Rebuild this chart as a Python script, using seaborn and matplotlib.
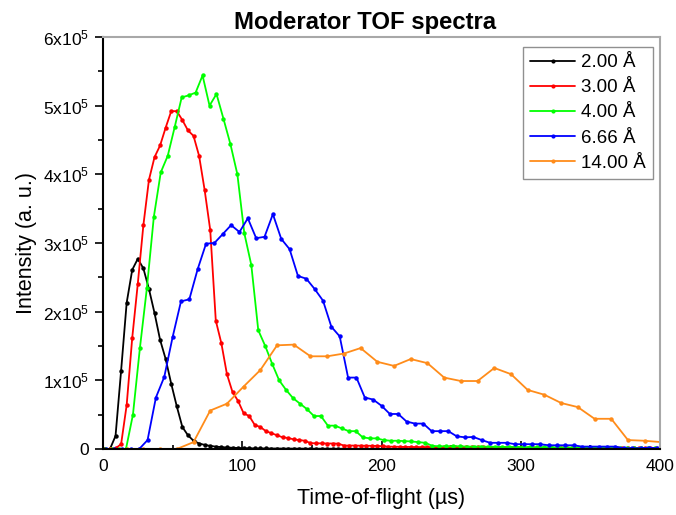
import numpy as np
import pandas as pd
import matplotlib
matplotlib.use("Agg")
import matplotlib.pyplot as plt
import seaborn as sns
from matplotlib.ticker import FuncFormatter, MultipleLocator

# ---- data (intensity in units of 1e5) ----
labels = ["2.00 Å", "3.00 Å", "4.00 Å", "6.66 Å", "14.00 Å"]
colors = ["#000000", "#ff0000", "#00ff00", "#0000ff", "#ff8c1a"]

# time-of-flight bin centres (µs)
t_2A = np.arange(1, 400, 4)
t_3A = np.arange(1, 400, 4)
t_4A = np.arange(1.5, 400, 5)
t_666A = np.arange(2, 400, 6)
t_14A = np.arange(5, 410, 12)

i_2A = [0.0, 0.0, 0.19, 1.14, 2.13, 2.61, 2.77, 2.63, 2.33, 1.98,
        1.59, 1.31, 0.95, 0.62, 0.32, 0.20, 0.12, 0.08, 0.06, 0.045,
        0.035, 0.028, 0.022, 0.018, 0.015, 0.012, 0.010, 0.009, 0.008, 0.008,
        0.007, 0.007, 0.006, 0.006, 0.005, 0.005, 0.005, 0.004, 0.004, 0.004,
        0.004, 0.004, 0.003, 0.003, 0.003, 0.003, 0.003, 0.003, 0.003, 0.003,
        0.003, 0.003, 0.002, 0.002, 0.002, 0.002, 0.002, 0.002, 0.002, 0.002,
        0.002, 0.002, 0.002, 0.002, 0.002, 0.002, 0.002, 0.002, 0.002, 0.002,
        0.002, 0.002, 0.002, 0.002, 0.002, 0.002, 0.002, 0.002, 0.002, 0.002,
        0.002, 0.002, 0.002, 0.002, 0.002, 0.002, 0.002, 0.002, 0.002, 0.002,
        0.002, 0.002, 0.002, 0.002, 0.002, 0.002, 0.002, 0.002, 0.002, 0.002]

i_3A = [0.0, 0.0, 0.01, 0.07, 0.64, 1.62, 2.41, 3.26, 3.92, 4.25,
        4.42, 4.68, 4.92, 4.92, 4.79, 4.64, 4.56, 4.27, 3.77, 3.19,
        1.87, 1.54, 1.09, 0.83, 0.70, 0.52, 0.48, 0.35, 0.32, 0.26,
        0.23, 0.20, 0.17, 0.16, 0.14, 0.13, 0.12, 0.085, 0.083, 0.082,
        0.080, 0.080, 0.078, 0.050, 0.050, 0.050, 0.048, 0.048, 0.046, 0.045,
        0.040, 0.035, 0.033, 0.032, 0.030, 0.030, 0.028, 0.028, 0.027, 0.026,
        0.025, 0.025, 0.024, 0.024, 0.023, 0.023, 0.022, 0.022, 0.022, 0.021,
        0.021, 0.020, 0.020, 0.020, 0.020, 0.019, 0.019, 0.019, 0.018, 0.018,
        0.018, 0.018, 0.017, 0.017, 0.017, 0.017, 0.016, 0.016, 0.016, 0.016,
        0.015, 0.015, 0.015, 0.015, 0.015, 0.014, 0.014, 0.014, 0.014, 0.014]

i_4A = [0.0, 0.0, 0.0, 0.0, 0.50, 1.47, 2.34, 3.38, 4.03, 4.27,
        4.69, 5.12, 5.15, 5.19, 5.44, 5.00, 5.17, 4.81, 4.44, 4.00,
        3.14, 2.68, 1.73, 1.50, 1.24, 1.00, 0.86, 0.74, 0.66, 0.58,
        0.48, 0.48, 0.34, 0.34, 0.30, 0.26, 0.26, 0.17, 0.155, 0.155,
        0.13, 0.12, 0.12, 0.115, 0.11, 0.10, 0.09, 0.045, 0.040, 0.040,
        0.040, 0.040, 0.035, 0.035, 0.035, 0.033, 0.032, 0.030, 0.030, 0.030,
        0.028, 0.027, 0.025, 0.025, 0.024, 0.022, 0.022, 0.020, 0.020, 0.018,
        0.017, 0.016, 0.015, 0.014, 0.013, 0.012, 0.012, 0.011, 0.010, 0.010]

i_666A = [0.0, 0.0, 0.0, 0.0, 0.0, 0.13, 0.75, 1.05, 1.63, 2.15,
          2.18, 2.62, 2.99, 3.00, 3.13, 3.26, 3.16, 3.36, 3.07, 3.09,
          3.42, 3.06, 2.91, 2.52, 2.48, 2.33, 2.16, 1.78, 1.64, 1.04,
          1.04, 0.75, 0.72, 0.63, 0.51, 0.51, 0.40, 0.37, 0.37, 0.26,
          0.26, 0.26, 0.185, 0.17, 0.175, 0.13, 0.09, 0.09, 0.09, 0.07,
          0.07, 0.07, 0.07, 0.054, 0.054, 0.054, 0.054, 0.035, 0.035, 0.035,
          0.035, 0.035, 0.012, 0.012, 0.012, 0.02, 0.012]

i_14A = [0.0, 0.0, 0.0, 0.0, 0.0, 0.10, 0.56, 0.66, 0.91, 1.15,
         1.51, 1.52, 1.35, 1.35, 1.39, 1.47, 1.27, 1.21, 1.31, 1.25,
         1.04, 0.99, 0.99, 1.18, 1.09, 0.86, 0.79, 0.67, 0.61, 0.44,
         0.44, 0.13, 0.12, 0.10]

series_t = [t_2A, t_3A, t_4A, t_666A, t_14A]
series_i = [i_2A, i_3A, i_4A, i_666A, i_14A]

frames = []
for lab, t, i in zip(labels, series_t, series_i):
    frames.append(pd.DataFrame({"tof": t, "intensity": np.array(i) * 1e5, "wavelength": lab}))
df = pd.concat(frames, ignore_index=True)

# ---- style ----
sns.set_style("ticks", rc={"text.color": "black", "axes.labelcolor": "black",
                           "xtick.color": "black", "ytick.color": "black"})
plt.rcParams["font.family"] = ["Liberation Sans", "DejaVu Sans"]
plt.rcParams["mathtext.default"] = "regular"

fig = plt.figure(figsize=(6.76, 5.15), dpi=100)
ax = fig.add_axes([103 / 676, 1 - 449 / 515, 557 / 676, 412 / 515])

sns.lineplot(data=df, x="tof", y="intensity", hue="wavelength", hue_order=labels,
             palette=dict(zip(labels, colors)), marker="o", markersize=3.2,
             markeredgewidth=0, linewidth=1.3, sort=True, estimator=None, ax=ax)

ax.set_xlim(0, 400)
ax.set_ylim(0, 6e5)
ax.xaxis.set_major_locator(MultipleLocator(100))
ax.xaxis.set_minor_locator(MultipleLocator(50))
ax.yaxis.set_major_locator(MultipleLocator(1e5))
ax.yaxis.set_minor_locator(MultipleLocator(0.5e5))


def yfmt(v, pos):
    n = int(round(v / 1e5))
    if n == 0:
        return "0"
    return f"{n}x10$^{{5}}$"


ax.yaxis.set_major_formatter(FuncFormatter(yfmt))

ax.tick_params(axis="x", which="major", direction="in", length=6, width=1.2,
               labelsize=12.5, pad=7, color="black", labelcolor="black")
ax.tick_params(axis="x", which="minor", direction="in", length=3.2, width=1.2, color="black")
ax.tick_params(axis="y", which="major", direction="out", length=6, width=1.2,
               labelsize=12.5, pad=4, color="black", labelcolor="black")
ax.tick_params(axis="y", which="minor", direction="out", length=3.5, width=1.2, color="black")

for side in ["left", "bottom"]:
    ax.spines[side].set_color("black")
    ax.spines[side].set_linewidth(1.5)
for side in ["top", "right"]:
    ax.spines[side].set_color("#a8a8a8")
    ax.spines[side].set_linewidth(1.5)

ax.set_xlabel("Time-of-flight (µs)", fontsize=15.5, labelpad=10, color="black")
ax.set_ylabel("Intensity (a. u.)", fontsize=15.5, labelpad=4, color="black")

fig.text(365 / 676, 1 - 22 / 515, "Moderator TOF spectra", ha="center", va="center",
         fontsize=17.2, fontweight="bold", color="black")

leg = ax.legend(loc="upper right", bbox_to_anchor=(0.9874, 0.9765), fontsize=13.5,
                frameon=True, fancybox=False, edgecolor="#909090", framealpha=1,
                handlelength=2.4, handletextpad=0.3, labelspacing=0.43,
                borderpad=0.39, borderaxespad=0)
leg.get_frame().set_linewidth(1.0)
for h in leg.get_lines():
    h.set_linewidth(1.3)
    h.set_markersize(3)
for txt in leg.get_texts():
    txt.set_color("black")

fig.savefig("out.png", dpi=100)
